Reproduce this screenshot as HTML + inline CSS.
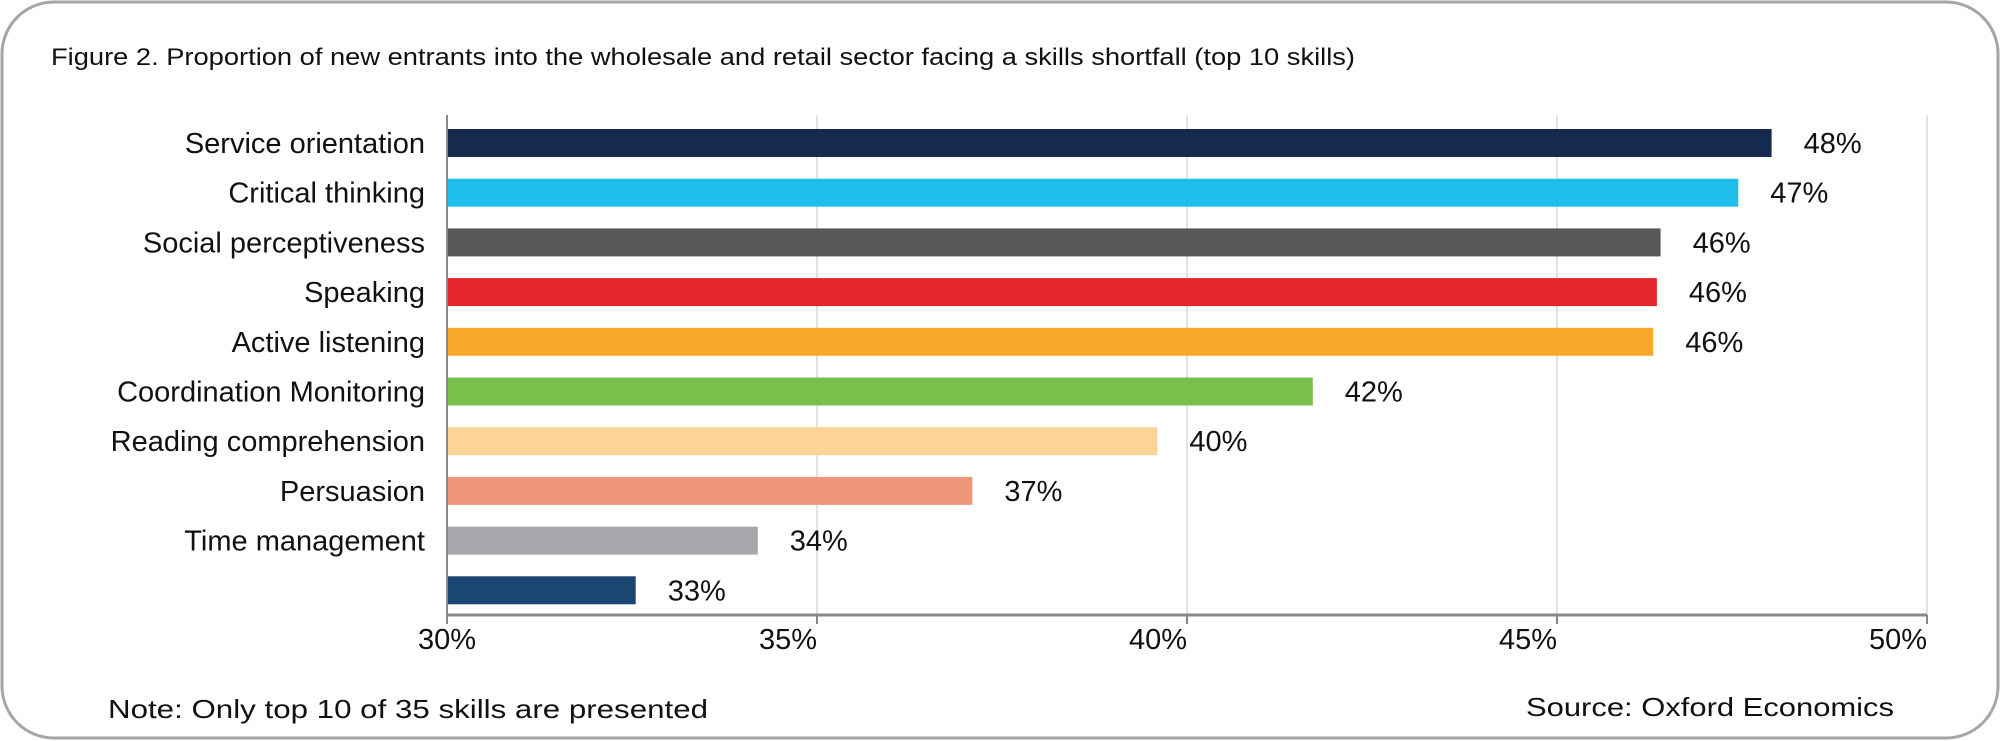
<!DOCTYPE html>
<html><head><meta charset="utf-8"><style>
html,body{margin:0;padding:0;background:#fff;}
svg{display:block;font-family:"Liberation Sans",sans-serif;}
</style></head><body>
<svg id="chart" width="2000" height="741" viewBox="0 0 2000 741" xmlns="http://www.w3.org/2000/svg">
<rect x="2" y="2" width="1996" height="736" rx="52" ry="52" fill="#fff" stroke="#a6a6a6" stroke-width="3"/>
<text x="51" y="65" font-size="24" textLength="1304" lengthAdjust="spacingAndGlyphs" fill="#111">Figure 2. Proportion of new entrants into the wholesale and retail sector facing a skills shortfall (top 10 skills)</text>
<g id="grid"></g>
<g id="bars"></g>
<g id="axis"></g>
<text x="108" y="718" font-size="26" textLength="600" lengthAdjust="spacingAndGlyphs" fill="#111">Note: Only top 10 of 35 skills are presented</text>
<text x="1894" y="716" font-size="26" text-anchor="end" textLength="368" lengthAdjust="spacingAndGlyphs" fill="#111">Source: Oxford Economics</text>
</svg>
<script>
const categories=["Service orientation","Critical thinking","Social perceptiveness","Speaking","Active listening","Coordination Monitoring","Reading comprehension","Persuasion","Time management",""];
const values=[47.9,47.45,46.4,46.35,46.3,41.7,39.6,37.1,34.2,32.55];
const valueLabels=["48%","47%","46%","46%","46%","42%","40%","37%","34%","33%"];
const colors=["#16294f","#1fbeea","#58585a","#e3262a","#f7a92c","#77c04b","#fdd497","#f0967a","#a7a8ac","#1b4573"];
const ticks=[30,35,40,45,50];
const tickLabels=["30%","35%","40%","45%","50%"];
const NS="http://www.w3.org/2000/svg";
const x0=447,x1=1927,vmin=30,vmax=50,plotTop=115,axisY=615;
const xs=v=>x0+(v-vmin)/(vmax-vmin)*(x1-x0);
const yc=i=>plotTop+28+i*49.7;
function mk(t,a,p){const e=document.createElementNS(NS,t);for(const k in a)e.setAttribute(k,a[k]);p.appendChild(e);return e;}
const grid=document.getElementById('grid'),bars=document.getElementById('bars'),axis=document.getElementById('axis');
ticks.forEach((t,i)=>{
  if(i>0){const g=mk('line',{x1:xs(t),x2:xs(t),y1:plotTop,y2:axisY,stroke:'#d9d9d9','stroke-width':1.5},grid);
  
  }
  const tk=mk('line',{x1:xs(t),x2:xs(t),y1:axisY,y2:axisY+9,stroke:'#888','stroke-width':2},axis);
  
  
  const tl=mk('text',{x:xs(t),y:axisY+34,'font-size':29,'text-anchor':i===0?'middle':'end',fill:'#111'},axis);
  tl.textContent=tickLabels[i];
  
  
});
categories.forEach((c,i)=>{
  const y=yc(i);
  const r=mk('rect',{x:x0,y:y-14,width:xs(values[i])-x0,height:28,fill:colors[i]},bars);
  
  
  const vl=mk('text',{x:xs(values[i])+32,y:y+10,'font-size':29,fill:'#111'},bars);
  vl.textContent=valueLabels[i];
  
  
  if(c){const cl=mk('text',{x:425,y:y+10,'font-size':29,'text-anchor':'end',fill:'#111'},bars);
  cl.textContent=c;
  
  }
});
const ya=mk('line',{x1:x0,x2:x0,y1:plotTop,y2:axisY,stroke:'#888','stroke-width':2},axis);


const xa=mk('line',{x1:x0,x2:x1,y1:axisY,y2:axisY,stroke:'#888','stroke-width':3},axis);


</script>
</body></html>
